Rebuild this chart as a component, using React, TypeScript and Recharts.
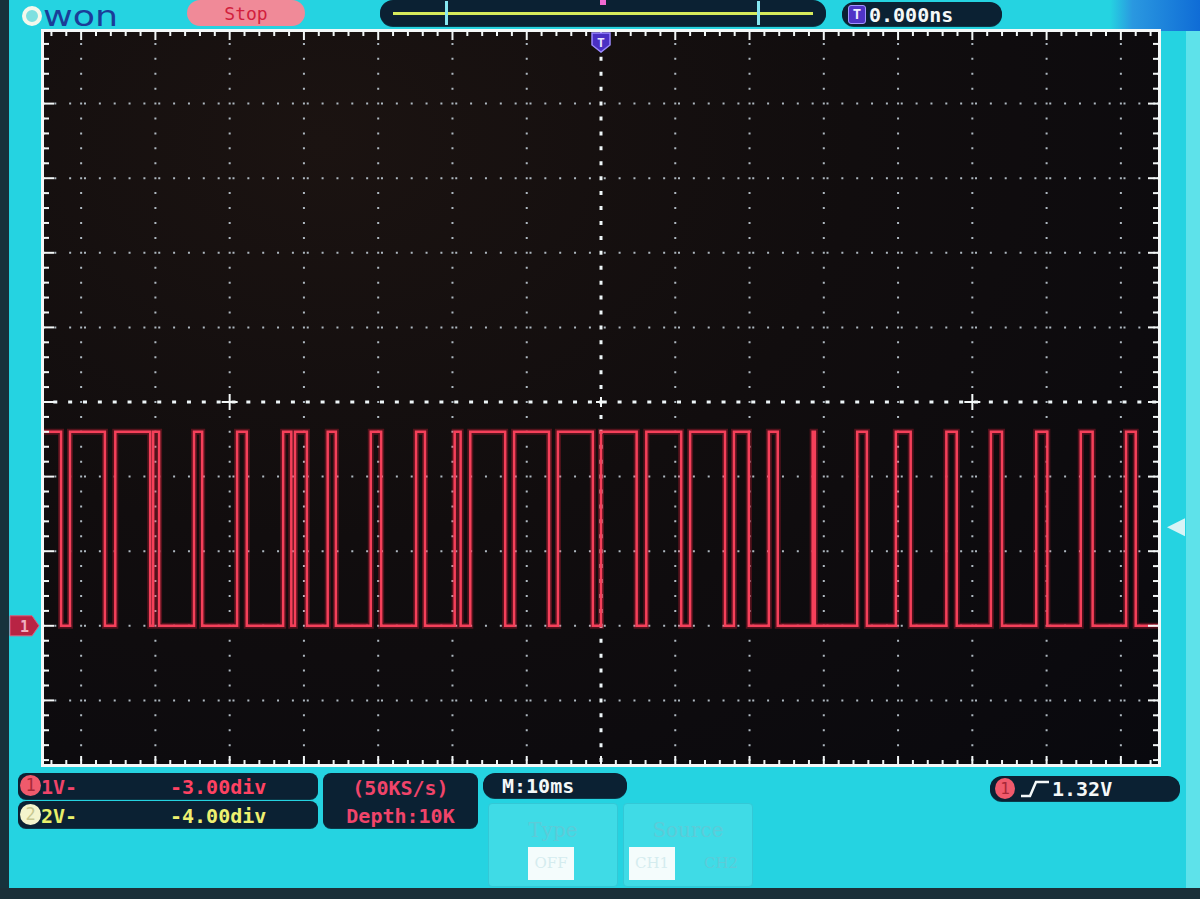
import { LineChart, Line, XAxis, YAxis, CartesianGrid } from 'recharts'

// CH1 trace: time (ms) where each level starts, and the level (V) held from there
const edgeTimes = [
  -75, -72.7, -71.5, -66.8, -65.4, -60.7, -60.3, -59.5, -54.8, -53.7, -49.0, -47.7, -42.8, -41.7,
  -41.2, -39.6, -36.8, -35.7, -31.0, -29.6, -24.9, -23.7, -19.7, -18.9, -17.6, -12.9, -11.7, -7.0,
  -5.8, -1.1, 0.0, 4.8, 6.1, 10.8, 12.0, 16.7, 17.9, 19.9, 22.6, 23.8, 28.5, 28.8, 34.5, 35.8,
  39.7, 41.7, 46.5, 47.9, 52.5, 54.0, 58.6, 60.1, 64.6, 66.2, 70.7, 72.0, 75,
]
const levels = [
  2.6, 0, 2.6, 0, 2.6, 0, 2.6, 0, 2.6, 0, 2.6, 0, 2.6, 0,
  2.6, 0, 2.6, 0, 2.6, 0, 2.6, 0, 2.6, 0, 2.6, 0, 2.6, 0,
  2.6, 0, 2.6, 0, 2.6, 0, 2.6, 0, 2.6, 0, 2.6, 0, 2.6, 0, 2.6, 0,
  2.6, 0, 2.6, 0, 2.6, 0, 2.6, 0, 2.6, 0, 2.6, 0, 0,
]
const timeTicks = [-70, -60, -50, -40, -30, -20, -10, 0, 10, 20, 30, 40, 50, 60, 70]
const voltTicks = [-1, 0, 1, 2, 3, 4, 5, 6, 7]
const timeDomain = [-75, 75]
const voltDomain = [-2, 8]
const triggerLevel = 1.32
const centerVolt = 3

const trace = edgeTimes.map((t, i) => ({ t, v: levels[i] }))

// screen geometry
const PL = 44
const PW = 1114
const CT = 29
const CH = 746
const xPx = (t: number) => PL + ((t - timeDomain[0]) / (timeDomain[1] - timeDomain[0])) * PW
const yPx = (v: number) => CT + ((voltDomain[1] - v) / (voltDomain[1] - voltDomain[0])) * CH

const mono = '"DejaVu Sans Mono", monospace'
const navy = '#0b2133'

function hLine(p: any) {
  const center = Math.abs(p.y1 - (yPx(centerVolt) - CT)) < 1
  return (
    <line
      key={`h${p.y1}`}
      x1={p.x1} y1={p.y1} x2={p.x2} y2={p.y2}
      stroke={center ? '#eef6f8' : '#aeb8c0'}
      strokeWidth={center ? 3 : 2}
      strokeDasharray={center ? '4 10.85' : '2 12.85'}
      strokeDashoffset={center ? 5.55 : 4.55}
    />
  )
}

function vLine(p: any) {
  const center = Math.abs(p.x1 - (xPx(0) - PL)) < 1
  return (
    <line
      key={`v${p.x1}`}
      x1={p.x1} y1={p.y1} x2={p.x2} y2={p.y2}
      stroke={center ? '#eef6f8' : '#aeb8c0'}
      strokeWidth={center ? 3 : 2}
      strokeDasharray={center ? '4 10.92' : '2 12.92'}
      strokeDashoffset={center ? 2 : 1}
    />
  )
}

function Frame() {
  const ticks: JSX.Element[] = []
  for (let t = -74; t <= 74; t += 2) {
    const x = xPx(t)
    const major = t % 10 === 0
    ticks.push(<line key={`tt${t}`} x1={x} y1={32} x2={x} y2={major ? 40 : 36} stroke="#f2f6f6" strokeWidth={2} />)
    ticks.push(<line key={`tb${t}`} x1={x} y1={764} x2={x} y2={major ? 756 : 760} stroke="#f2f6f6" strokeWidth={2} />)
  }
  for (let k = -9; k <= 49; k++) {
    const v = k / 5
    const y = yPx(v)
    if (y < 34 || y > 762) continue
    const major = k % 5 === 0
    ticks.push(<line key={`tl${k}`} x1={44} y1={y} x2={major ? 54 : 49} y2={y} stroke="#f2f6f6" strokeWidth={2} />)
    ticks.push(<line key={`tr${k}`} x1={1158} y1={y} x2={major ? 1148 : 1153} y2={y} stroke="#f2f6f6" strokeWidth={2} />)
  }
  const crosses = [-50, 0, 50].map((t) => {
    const x = xPx(t)
    const y = yPx(centerVolt)
    const a = t === 0 ? 5 : 8
    return (
      <g key={`c${t}`} stroke="#f4f8f8" strokeWidth={2}>
        <line x1={x - a} y1={y} x2={x + a} y2={y} />
        <line x1={x} y1={y - a} x2={x} y2={y + a} />
      </g>
    )
  })
  const gy = yPx(0)
  const ty = yPx(triggerLevel)
  const tx = xPx(0)
  return (
    <svg width={1200} height={899} style={{ position: 'absolute', left: 0, top: 0, pointerEvents: 'none' }}>
      <rect x={42.5} y={30.5} width={1117} height={735} fill="none" stroke="#f4f8f8" strokeWidth={3} />
      {ticks}
      {crosses}
      {/* channel 1 ground tag */}
      <polygon points={`10,${gy - 10} 32,${gy - 10} 39,${gy} 32,${gy + 10} 10,${gy + 10}`} fill="#b82444" stroke="#e0587a" strokeWidth={1} />
      <text x={20} y={gy + 6} fontFamily={mono} fontWeight={700} fontSize={15} fill="#f0b0c0">1</text>
      {/* trigger position marker */}
      <path d={`M${tx - 9},33 h18 v12 l-9,7 l-9,-7 z`} fill="#4a30c4" stroke="#9a88ff" strokeWidth={1.5} />
      <text x={tx} y={47} textAnchor="middle" fontFamily={mono} fontWeight={700} fontSize={13} fill="#e8e4ff">T</text>
      {/* trigger level arrow */}
      <polygon points={`1167,${ty} 1185,${ty - 9} 1185,${ty + 9}`} fill="#d8f4f6" />
    </svg>
  )
}

function Box({ left, top, width, height, r = 10, children }: any) {
  return (
    <div style={{ position: 'absolute', left, top, width, height, borderRadius: r, background: navy, boxShadow: '0 1px 0 #0a3a4a' }}>
      {children}
    </div>
  )
}

function Txt({ left, top, color, size = 20, children, style }: any) {
  return (
    <div style={{ position: 'absolute', left, top, color, fontSize: size, fontFamily: mono, fontWeight: 700, lineHeight: 1, whiteSpace: 'pre', ...style }}>
      {children}
    </div>
  )
}

export default function App() {
  return (
    <div style={{ position: 'absolute', left: 0, top: 0, width: 1200, height: 899, overflow: 'hidden', background: '#25d3e1' }}>
      {/* bezel and glare */}
      <div style={{ position: 'absolute', left: 0, top: 0, width: 9, height: 899, background: '#17323c' }} />
      <div style={{ position: 'absolute', left: 0, top: 888, width: 1200, height: 11, background: '#1b2f38' }} />
      <div style={{ position: 'absolute', left: 1110, top: 0, width: 90, height: 31, background: 'linear-gradient(90deg,#25d3e1 0%,#2a98e0 25%,#0f6cd6 100%)' }} />
      <div style={{ position: 'absolute', left: 1186, top: 31, width: 14, height: 857, background: '#5ee2ea' }} />

      {/* logo */}
      <div style={{ position: 'absolute', left: 22, top: 6, width: 12, height: 12, borderRadius: '50%', border: '4px solid #f4f8ec', background: '#7ee0e0' }} />
      <div style={{ position: 'absolute', left: 43, top: 0, fontFamily: '"DejaVu Sans", sans-serif', fontSize: 28, lineHeight: '34px', color: '#1b3d98', transform: 'scaleX(1.3)', transformOrigin: 'left center' }}>won</div>

      {/* Stop */}
      <div style={{ position: 'absolute', left: 187, top: 0, width: 118, height: 26, borderRadius: 13, background: '#f08a98', color: '#d21f3e', fontFamily: mono, fontSize: 18, lineHeight: '27px', textAlign: 'center' }}>Stop</div>

      {/* memory bar */}
      <Box left={380} top={0} width={446} height={26} r={13}>
        <div style={{ position: 'absolute', left: 13, top: 12, width: 420, height: 3, background: '#d6ea5c' }} />
        <div style={{ position: 'absolute', left: 65, top: 1, width: 3, height: 24, background: '#86e6f0' }} />
        <div style={{ position: 'absolute', left: 377, top: 1, width: 3, height: 24, background: '#86e6f0' }} />
        <div style={{ position: 'absolute', left: 220, top: 0, width: 6, height: 5, background: '#f06ad2' }} />
      </Box>

      {/* trigger delay */}
      <Box left={842} top={2} width={160} height={24} r={12}>
        <div style={{ position: 'absolute', left: 6, top: 3, width: 16, height: 17, borderRadius: 3, background: '#5034c6', border: '1px solid #a494ff', color: '#f0ecff', fontFamily: mono, fontWeight: 700, fontSize: 14, lineHeight: '17px', textAlign: 'center' }}>T</div>
        <Txt left={27} top={3} color="#f4f8f8" size={20}>0.000ns</Txt>
      </Box>

      {/* plot */}
      <div style={{ position: 'absolute', left: PL, top: 32, width: PW, height: 732, overflow: 'hidden', background: 'radial-gradient(ellipse at 25% 15%, #1b1311 0%, #110d0e 45%, #09090e 100%)' }}>
        <div style={{ position: 'absolute', left: 0, top: CT - 32 }}>
          <LineChart width={PW} height={CH} data={trace} margin={{ top: 0, right: 0, bottom: 0, left: 0 }}>
            <CartesianGrid horizontal={hLine} vertical={vLine} stroke="#aeb8c0" />
            <XAxis dataKey="t" type="number" domain={timeDomain} ticks={timeTicks} hide />
            <YAxis type="number" domain={voltDomain} ticks={voltTicks} hide />
            <Line dataKey="v" type="stepAfter" stroke="#ff2040" strokeOpacity={0.28} strokeWidth={6} dot={false} isAnimationActive={false} />
            <Line dataKey="v" type="stepAfter" stroke="#f5405a" strokeWidth={2.5} dot={false} isAnimationActive={false} />
          </LineChart>
        </div>
      </div>

      <Frame />

      {/* channel info */}
      <Box left={18} top={773} width={300} height={26} r={8}>
        <div style={{ position: 'absolute', left: 2, top: 2, width: 21, height: 21, borderRadius: '50%', background: '#f05a6c', color: '#a82838', fontFamily: mono, fontSize: 17, lineHeight: '21px', textAlign: 'center' }}>1</div>
        <Txt left={23} top={4} color="#f0446a">1V-</Txt>
        <Txt left={152} top={4} color="#ff4262">-3.00div</Txt>
      </Box>
      <Box left={18} top={801} width={300} height={27} r={8}>
        <div style={{ position: 'absolute', left: 2, top: 3, width: 21, height: 21, borderRadius: '50%', background: '#f4f4cc', color: '#c8c890', fontFamily: mono, fontSize: 17, lineHeight: '21px', textAlign: 'center' }}>2</div>
        <Txt left={23} top={5} color="#e8f06a">2V-</Txt>
        <Txt left={152} top={5} color="#eef070">-4.00div</Txt>
      </Box>
      <Box left={323} top={773} width={155} height={55} r={8}>
        <Txt left={0} top={5} color="#f0446a" style={{ width: 155, textAlign: 'center' }}>(50KS/s)</Txt>
        <Txt left={0} top={33} color="#f0446a" style={{ width: 155, textAlign: 'center' }}>Depth:10K</Txt>
      </Box>
      <Box left={483} top={773} width={144} height={25} r={12}>
        <Txt left={19} top={3} color="#f4f8f8">M:10ms</Txt>
      </Box>
      <Box left={990} top={776} width={190} height={25} r={12}>
        <div style={{ position: 'absolute', left: 5, top: 2, width: 20, height: 21, borderRadius: '50%', background: '#f05a6c', color: '#a82838', fontFamily: mono, fontSize: 16, lineHeight: '21px', textAlign: 'center' }}>1</div>
        <svg width={40} height={25} style={{ position: 'absolute', left: 28, top: 0 }}>
          <polyline points="3,20 12,20 18,6 31,6" fill="none" stroke="#f4f8f8" strokeWidth={2.5} />
        </svg>
        <Txt left={62} top={3} color="#f4f8f8">1.32V</Txt>
      </Box>

      {/* faint trigger menu */}
      <div style={{ position: 'absolute', left: 488, top: 803, width: 128, height: 82, background: '#3fdbe6', border: '1px solid #33c8d6', borderRadius: 4 }}>
        <div style={{ position: 'absolute', left: 0, top: 14, width: 128, textAlign: 'center', fontFamily: '"DejaVu Serif", serif', fontSize: 20, color: '#5ccbd8' }}>Type</div>
        <div style={{ position: 'absolute', left: 39, top: 43, width: 46, height: 33, background: '#f4fcfc', color: '#d4ecef', fontFamily: '"DejaVu Serif", serif', fontSize: 15, lineHeight: '33px', textAlign: 'center' }}>OFF</div>
      </div>
      <div style={{ position: 'absolute', left: 623, top: 803, width: 128, height: 82, background: '#3fdbe6', border: '1px solid #33c8d6', borderRadius: 4 }}>
        <div style={{ position: 'absolute', left: 0, top: 14, width: 128, textAlign: 'center', fontFamily: '"DejaVu Serif", serif', fontSize: 20, color: '#5ccbd8' }}>Source</div>
        <div style={{ position: 'absolute', left: 5, top: 43, width: 46, height: 33, background: '#f4fcfc', color: '#d4ecef', fontFamily: '"DejaVu Serif", serif', fontSize: 15, lineHeight: '33px', textAlign: 'center' }}>CH1</div>
        <div style={{ position: 'absolute', left: 74, top: 43, width: 46, height: 33, color: '#5ccbd8', fontFamily: '"DejaVu Serif", serif', fontSize: 15, lineHeight: '33px', textAlign: 'center' }}>CH2</div>
      </div>
    </div>
  )
}
